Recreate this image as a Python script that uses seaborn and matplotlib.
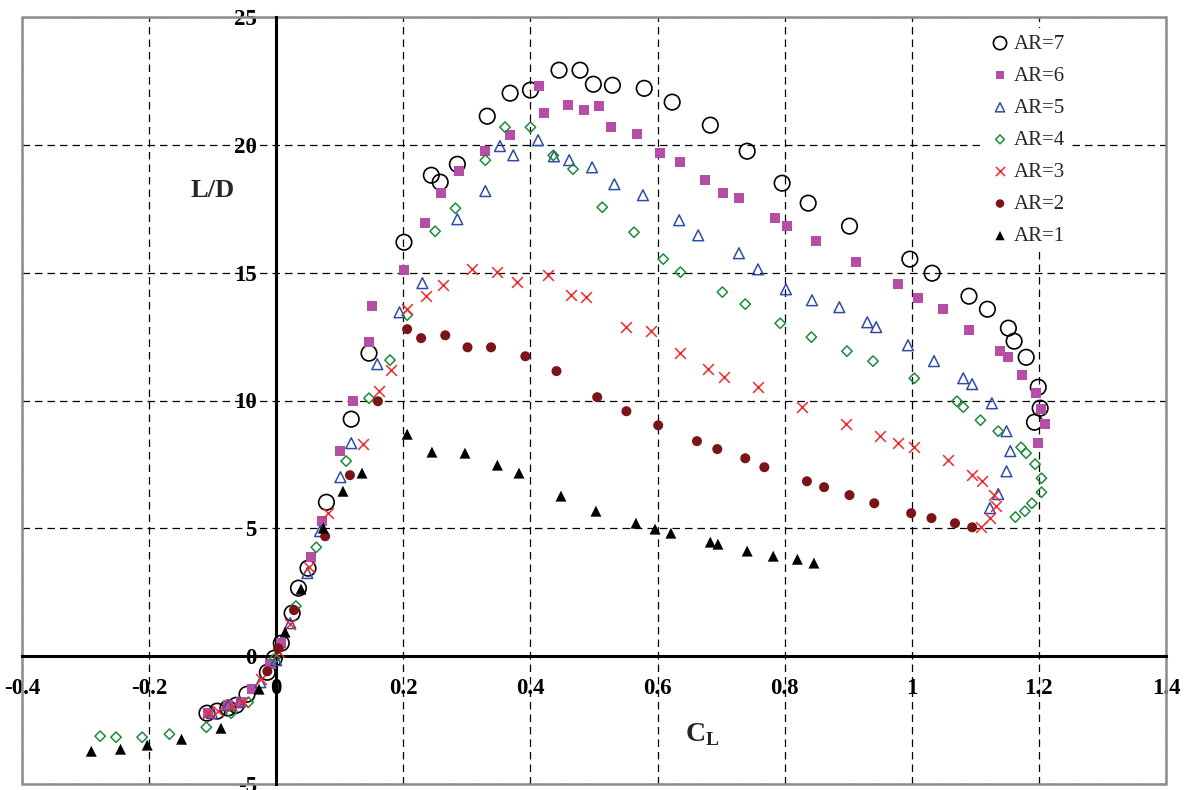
import numpy as np
import matplotlib
matplotlib.use("Agg")
import matplotlib.pyplot as plt
from matplotlib.patches import Rectangle
import seaborn as sns

# Lift-to-drag ratio L/D against lift coefficient C_L for aspect ratios 1..7
ar7_cl = [-0.109, -0.093, -0.076, -0.063, -0.046, -0.014, -0.003, 0.008, 0.025, 0.035, 0.050,
          0.079, 0.118, 0.146, 0.201, 0.244, 0.258, 0.285, 0.332, 0.368, 0.400, 0.445, 0.478,
          0.499, 0.529, 0.579, 0.623, 0.683, 0.741, 0.796, 0.837, 0.902, 0.997, 1.032, 1.090,
          1.119, 1.152, 1.161, 1.180, 1.199, 1.202, 1.193]
ar7_ld = [-2.23, -2.15, -2.03, -1.92, -1.49, -0.63, -0.08, 0.51, 1.68, 2.66, 3.44,
          6.02, 9.27, 11.85, 16.19, 18.81, 18.54, 19.24, 21.12, 22.02, 22.14, 22.92, 22.92,
          22.37, 22.33, 22.21, 21.67, 20.77, 19.75, 18.50, 17.72, 16.82, 15.53, 14.98, 14.08,
          13.57, 12.83, 12.32, 11.69, 10.52, 9.70, 9.15]

ar6_cl = [-0.107, -0.076, -0.055, -0.038, -0.009, 0.008, 0.055, 0.072, 0.101, 0.121, 0.146,
          0.151, 0.201, 0.234, 0.260, 0.288, 0.329, 0.368, 0.414, 0.422, 0.459, 0.485, 0.508,
          0.527, 0.568, 0.604, 0.636, 0.675, 0.703, 0.728, 0.785, 0.804, 0.850, 0.913, 0.979,
          1.010, 1.049, 1.090, 1.139, 1.152, 1.174, 1.196, 1.204, 1.210, 1.199]
ar6_ld = [-2.23, -1.92, -1.80, -1.29, -0.31, 0.51, 3.87, 5.28, 8.02, 9.97, 12.28,
          13.69, 15.10, 16.93, 18.11, 18.97, 19.75, 20.38, 22.29, 21.24, 21.55, 21.35, 21.51,
          20.69, 20.41, 19.67, 19.32, 18.62, 18.11, 17.91, 17.13, 16.82, 16.23, 15.41, 14.55,
          14.00, 13.57, 12.75, 11.93, 11.69, 10.99, 10.29, 9.66, 9.07, 8.33]

ar5_cl = [-0.101, -0.076, -0.058, -0.025, 0.000, 0.022, 0.049, 0.069, 0.101, 0.118, 0.159,
          0.194, 0.230, 0.285, 0.329, 0.352, 0.373, 0.412, 0.437, 0.461, 0.497, 0.532, 0.577,
          0.634, 0.664, 0.728, 0.758, 0.802, 0.843, 0.886, 0.930, 0.944, 0.994, 1.035, 1.081,
          1.095, 1.126, 1.149, 1.155, 1.149, 1.136, 1.123]
ar5_ld = [-2.23, -1.92, -1.80, -1.02, -0.16, 1.29, 3.25, 4.89, 7.00, 8.33, 11.42,
          13.45, 14.59, 17.09, 18.19, 19.95, 19.59, 20.18, 19.55, 19.40, 19.12, 18.46, 18.03,
          17.05, 16.46, 15.76, 15.13, 14.35, 13.92, 13.65, 13.06, 12.87, 12.16, 11.54, 10.87,
          10.64, 9.89, 8.80, 8.02, 7.23, 6.34, 5.79]

ar4_cl = [-0.277, -0.252, -0.211, -0.168, -0.110, -0.071, -0.044, -0.002, 0.031, 0.063, 0.110,
          0.146, 0.179, 0.206, 0.250, 0.282, 0.329, 0.360, 0.400, 0.436, 0.467, 0.513, 0.563,
          0.609, 0.636, 0.702, 0.738, 0.793, 0.842, 0.898, 0.939, 1.004, 1.071, 1.081, 1.108,
          1.136, 1.172, 1.180, 1.194, 1.204, 1.204, 1.189, 1.178, 1.163]
ar4_ld = [-3.13, -3.17, -3.17, -3.05, -2.78, -2.23, -1.80, -0.08, 1.96, 4.26, 7.63,
          10.09, 11.58, 13.34, 16.62, 17.52, 19.40, 20.69, 20.69, 19.59, 19.05, 17.56, 16.58,
          15.53, 15.02, 14.24, 13.77, 13.02, 12.48, 11.93, 11.54, 10.87, 9.97, 9.74, 9.23,
          8.80, 8.17, 7.94, 7.51, 6.96, 6.41, 5.98, 5.67, 5.44]

ar3_cl = [-0.107, -0.091, -0.069, -0.053, -0.024, 0.005, 0.022, 0.052, 0.082, 0.137, 0.162,
          0.181, 0.206, 0.236, 0.263, 0.308, 0.348, 0.379, 0.428, 0.464, 0.488, 0.551, 0.590,
          0.636, 0.680, 0.705, 0.758, 0.828, 0.897, 0.950, 0.979, 1.004, 1.057, 1.095, 1.111,
          1.130, 1.133, 1.123, 1.109]
ar3_ld = [-2.23, -2.15, -1.96, -1.80, -0.90, 0.16, 1.25, 3.48, 5.59, 8.29, 10.36,
          11.18, 13.57, 14.08, 14.51, 15.13, 15.02, 14.63, 14.90, 14.12, 14.04, 12.87, 12.71,
          11.85, 11.22, 10.91, 10.52, 9.74, 9.07, 8.60, 8.33, 8.17, 7.67, 7.08, 6.84,
          6.30, 5.87, 5.40, 5.04]

ar2_cl = [-0.014, 0.003, 0.028, 0.077, 0.116, 0.160, 0.206, 0.228, 0.266, 0.301, 0.338,
          0.392, 0.441, 0.505, 0.551, 0.601, 0.662, 0.694, 0.738, 0.768, 0.835, 0.862, 0.902,
          0.941, 0.999, 1.031, 1.068, 1.095]
ar2_ld = [-0.59, 0.31, 1.80, 4.69, 7.08, 9.97, 12.79, 12.44, 12.55, 12.08, 12.08,
          11.73, 11.15, 10.13, 9.58, 9.03, 8.41, 8.10, 7.74, 7.39, 6.84, 6.61, 6.30,
          5.98, 5.59, 5.40, 5.20, 5.04]

ar1_cl = [-0.291, -0.245, -0.203, -0.149, -0.087, -0.027, 0.014, 0.039, 0.074, 0.105, 0.135,
          0.206, 0.245, 0.297, 0.348, 0.382, 0.448, 0.503, 0.566, 0.596, 0.621, 0.683, 0.695,
          0.741, 0.782, 0.820, 0.846]
ar1_ld = [-3.72, -3.64, -3.48, -3.25, -2.82, -1.29, 0.94, 2.62, 5.01, 6.45, 7.16,
          8.68, 7.98, 7.94, 7.47, 7.16, 6.26, 5.67, 5.20, 4.97, 4.81, 4.46, 4.38,
          4.11, 3.91, 3.79, 3.64]

x_tick_labels = ["-0.4", "-0.2", "0", "0.2", "0.4", "0.6", "0.8", "1", "1.2", "1.4"]
y_tick_labels = ["-5", "0", "5", "10", "15", "20", "25"]

sns.set_style("white")
plt.rcParams["font.family"] = ["Liberation Serif", "DejaVu Serif"]
plt.rcParams["mathtext.fontset"] = "custom"
plt.rcParams["mathtext.rm"] = "Liberation Serif"
plt.rcParams["mathtext.bf"] = "Liberation Serif:bold"

fig = plt.figure(figsize=(11.85, 7.9), dpi=100)
ax = fig.add_axes([22 / 1185, 6 / 790, 1144 / 1185, 767 / 790])

# (label, x, y, marker, colour, style, size, line width)
series = [
    ("AR=7", ar7_cl, ar7_ld, "o", "#000000", "open", 125, 1.2),
    ("AR=6", ar6_cl, ar6_ld, "s", "#b64ea6", "filled", 52, 0),
    ("AR=5", ar5_cl, ar5_ld, "^", "#2f4ca8", "open", 60, 1.1),
    ("AR=4", ar4_cl, ar4_ld, "D", "#1d8a3b", "open", 28, 1.1),
    ("AR=3", ar3_cl, ar3_ld, "x", "#ee2a2e", "line", 60, 1.1),
    ("AR=2", ar2_cl, ar2_ld, "o", "#7a1417", "filled", 52, 0),
    ("AR=1", ar1_cl, ar1_ld, "^", "#000000", "filled", 62, 0),
]

for label, xs, ys, mk, col, style, size, lw in series:
    if style == "open":
        sns.scatterplot(x=xs, y=ys, ax=ax, marker=mk, s=size, facecolor="none",
                        edgecolor=col, linewidth=lw, label=label, zorder=3)
    elif style == "line":
        sns.scatterplot(x=xs, y=ys, ax=ax, marker=mk, s=size, color=col,
                        linewidth=lw, label=label, zorder=3)
    else:
        sns.scatterplot(x=xs, y=ys, ax=ax, marker=mk, s=size, color=col,
                        edgecolor="none", linewidth=0, label=label, zorder=3)

x_ticks = [float(t) for t in x_tick_labels]
y_ticks = [float(t) for t in y_tick_labels]
ax.set_xlim(x_ticks[0], x_ticks[-1])
ax.set_ylim(y_ticks[0], y_ticks[-1])
ax.set_xticks(x_ticks)
ax.set_xticklabels(x_tick_labels)
ax.set_yticks(y_ticks)
ax.set_yticklabels(y_tick_labels)
ax.set_xlabel("")
ax.set_ylabel("")

ax.grid(True, color="black", linestyle=(0, (6, 4)), linewidth=0.9, zorder=0)
ax.set_axisbelow(True)

# axes cross at the origin
for side in ("left", "bottom"):
    ax.spines[side].set_position(("data", 0))
    ax.spines[side].set_linewidth(2.2)
    ax.spines[side].set_color("black")
    ax.spines[side].set_zorder(2.5)
ax.spines["top"].set_visible(False)
ax.spines["right"].set_visible(False)
ax.add_patch(Rectangle((0, 0), 1, 1, transform=ax.transAxes, fill=False,
                       edgecolor="#8c8c8c", linewidth=1.8, clip_on=False, zorder=1))

ax.tick_params(axis="x", direction="in", length=6, width=1.5, pad=16,
               labelsize=16.5, colors="black")
ax.tick_params(axis="y", direction="inout", length=12, width=1.5, pad=8,
               labelsize=16.5, colors="black")
for t in ax.get_xticklabels() + ax.get_yticklabels():
    t.set_fontweight("bold")

ax.text(-0.10, 18.2, "L/D", fontsize=19, fontweight="bold", ha="center", va="center")
ax.text(0.67, -3.05, r"$\mathbf{C}_{\mathbf{L}}$", fontsize=20, ha="center", va="center")

leg = ax.legend(loc="upper right", bbox_to_anchor=(0.917, 0.986), borderaxespad=0,
                frameon=True, facecolor="white", edgecolor="none", framealpha=1,
                fontsize=15, handlelength=0.8, handletextpad=0.25, labelspacing=0.6,
                borderpad=0.3, markerscale=0.85)
leg.set_zorder(4)

fig.savefig("out.png", dpi=100)
